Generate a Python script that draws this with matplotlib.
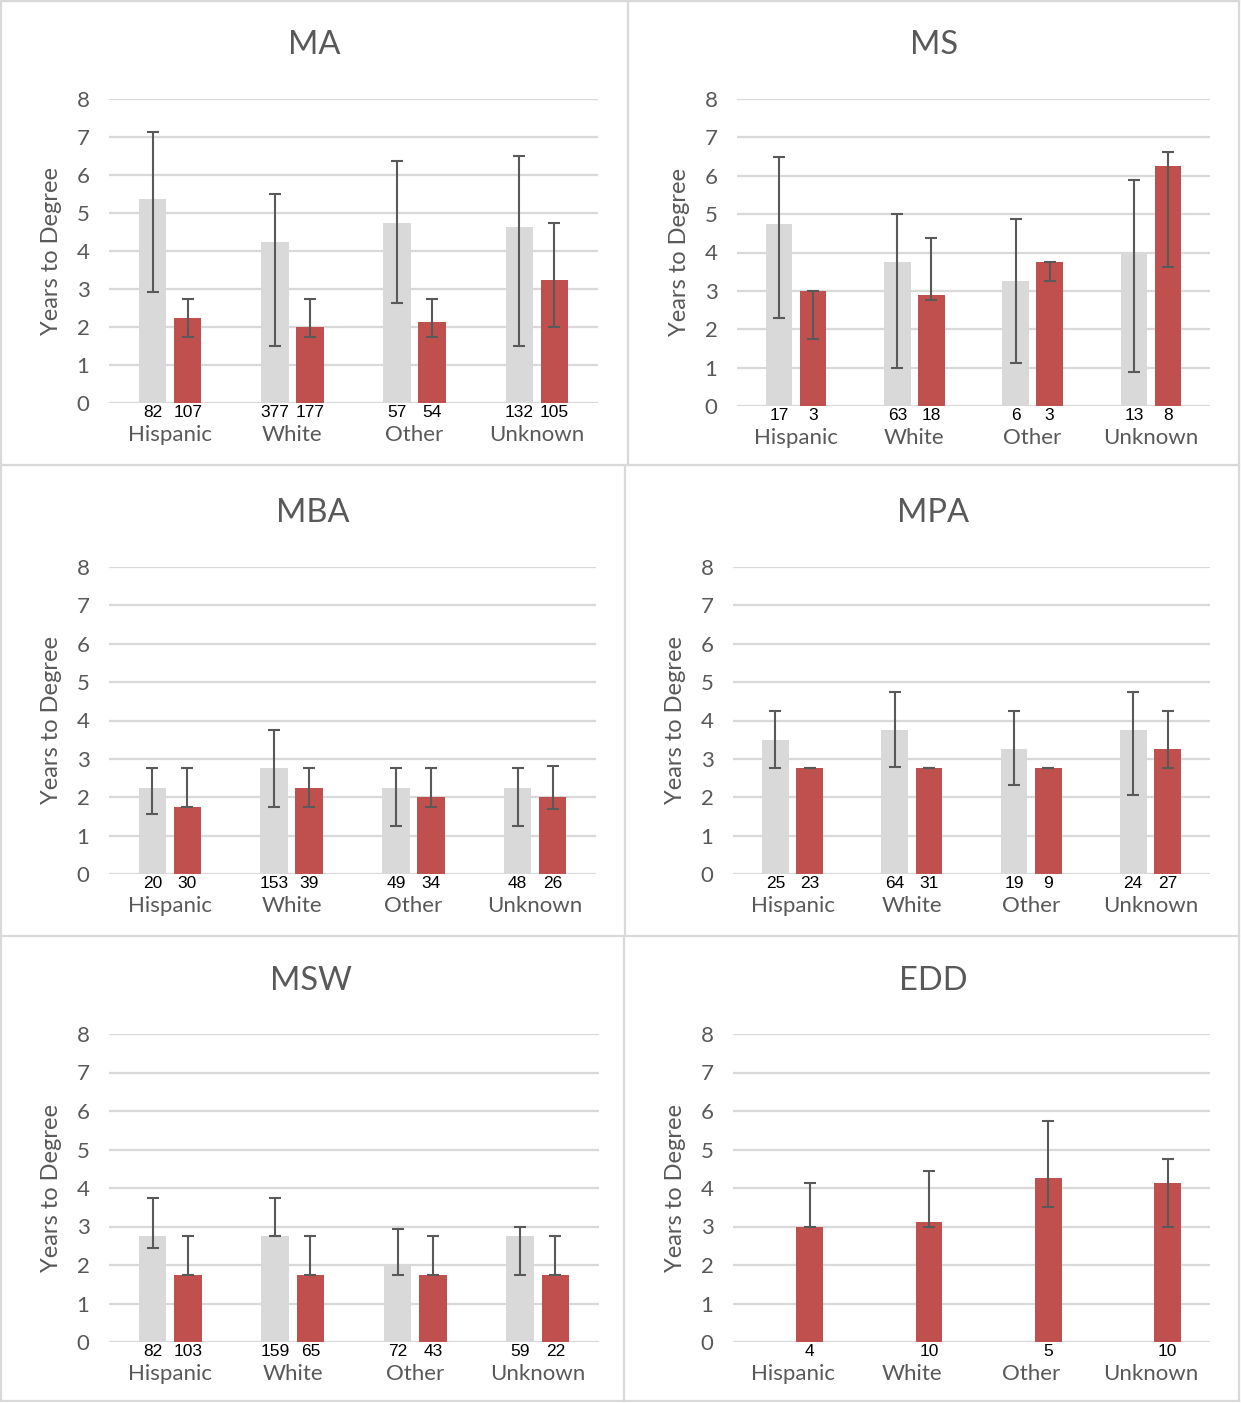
import numpy as np
import matplotlib
matplotlib.use('Agg')
import matplotlib.pyplot as plt
from matplotlib.lines import Line2D

# Datos
categorias = ['Hispanic', 'White', 'Other', 'Unknown']
programas = ['MA', 'MS', 'MBA', 'MPA', 'MSW', 'EDD']

# barras grises (media, extremo inferior y superior de la barra de error)
gris = {
    'MA':  [5.38, 4.25, 4.75, 4.62],
    'MS':  [4.75, 3.75, 3.25, 4.0],
    'MBA': [2.25, 2.75, 2.25, 2.25],
    'MPA': [3.5, 3.75, 3.25, 3.75],
    'MSW': [2.75, 2.75, 2.0, 2.75],
    'EDD': [np.nan, np.nan, np.nan, np.nan],
}
gris_min = {
    'MA':  [2.93, 1.5, 2.62, 1.5],
    'MS':  [2.3, 1.0, 1.12, 0.88],
    'MBA': [1.56, 1.75, 1.25, 1.25],
    'MPA': [2.75, 2.8, 2.32, 2.05],
    'MSW': [2.44, 2.75, 1.75, 1.75],
    'EDD': [np.nan, np.nan, np.nan, np.nan],
}
gris_max = {
    'MA':  [7.13, 5.5, 6.38, 6.5],
    'MS':  [6.5, 5.0, 4.88, 5.88],
    'MBA': [2.75, 3.75, 2.75, 2.75],
    'MPA': [4.25, 4.75, 4.25, 4.75],
    'MSW': [3.75, 3.75, 2.94, 3.0],
    'EDD': [np.nan, np.nan, np.nan, np.nan],
}
# barras rojas
rojo = {
    'MA':  [2.25, 2.0, 2.12, 3.25],
    'MS':  [3.0, 2.88, 3.75, 6.25],
    'MBA': [1.75, 2.25, 2.0, 2.0],
    'MPA': [2.75, 2.75, 2.75, 3.25],
    'MSW': [1.75, 1.75, 1.75, 1.75],
    'EDD': [3.0, 3.12, 4.25, 4.12],
}
rojo_min = {
    'MA':  [1.75, 1.75, 1.75, 2.0],
    'MS':  [1.75, 2.75, 3.25, 3.62],
    'MBA': [1.75, 1.75, 1.75, 1.7],
    'MPA': [2.75, 2.75, 2.75, 2.75],
    'MSW': [1.75, 1.75, 1.75, 1.75],
    'EDD': [3.0, 3.0, 3.5, 3.0],
}
rojo_max = {
    'MA':  [2.75, 2.75, 2.75, 4.75],
    'MS':  [3.0, 4.38, 3.75, 6.62],
    'MBA': [2.75, 2.75, 2.75, 2.82],
    'MPA': [2.75, 2.75, 2.75, 4.25],
    'MSW': [2.75, 2.75, 2.75, 2.75],
    'EDD': [4.12, 4.44, 5.75, 4.75],
}
# número de estudiantes bajo cada barra
n_gris = {
    'MA':  ['82', '377', '57', '132'],
    'MS':  ['17', '63', '6', '13'],
    'MBA': ['20', '153', '49', '48'],
    'MPA': ['25', '64', '19', '24'],
    'MSW': ['82', '159', '72', '59'],
    'EDD': [None, None, None, None],
}
n_rojo = {
    'MA':  ['107', '177', '54', '105'],
    'MS':  ['3', '18', '3', '8'],
    'MBA': ['30', '39', '34', '26'],
    'MPA': ['23', '31', '9', '27'],
    'MSW': ['103', '65', '43', '22'],
    'EDD': ['4', '10', '5', '10'],
}

W, H = 1241, 1403
# posición de cada panel en píxeles: izquierda, derecha, y del 0, y del 8, centro del título
posiciones = {
    'MA':  (109, 598, 403, 99, 314, 45),
    'MS':  (737, 1210, 406, 99, 934, 45),
    'MBA': (109, 596, 874, 567, 313, 513),
    'MPA': (733, 1210, 874, 567, 933, 513),
    'MSW': (109, 599, 1342, 1034, 311, 981),
    'EDD': (733, 1210, 1342, 1034, 933, 981),
}

color_gris = '#d9d9d9'
color_rojo = '#c0504d'
color_texto = '#595959'
fuente = ['Lato', 'DejaVu Sans']

fig = plt.figure(figsize=(W / 100, H / 100), dpi=100)

ancho = 0.225
desp = 0.144
x = np.arange(len(categorias))

for prog in programas:
    izq, der, y0, y8, tx, ty = posiciones[prog]
    ax = fig.add_axes([izq / W, 1 - y0 / H, (der - izq) / W, (y0 - y8) / H])

    g = np.array(gris[prog])
    r = np.array(rojo[prog])
    if not np.all(np.isnan(g)):
        ax.bar(x - desp, g, width=ancho, color=color_gris, zorder=2)
        err_g = [g - np.array(gris_min[prog]), np.array(gris_max[prog]) - g]
        ax.errorbar(x - desp, g, yerr=err_g, fmt='none', ecolor=color_texto,
                    elinewidth=1.5, capsize=4, capthick=1.5, zorder=3)
    ax.bar(x + desp, r, width=ancho, color=color_rojo, zorder=2)
    err_r = [r - np.array(rojo_min[prog]), np.array(rojo_max[prog]) - r]
    ax.errorbar(x + desp, r, yerr=err_r, fmt='none', ecolor=color_texto,
                elinewidth=1.5, capsize=4, capthick=1.5, zorder=3)

    ax.set_xlim(-0.5, 3.5)
    ax.set_ylim(0, 8)
    ax.set_yticks(range(0, 9))
    ax.set_xticks([])
    ax.yaxis.grid(True, color=color_gris, linewidth=1.6)
    ax.set_axisbelow(True)
    for s in ax.spines.values():
        s.set_visible(False)
    ax.tick_params(axis='y', length=0, pad=14, labelsize=16, labelcolor=color_texto)
    for lab in ax.get_yticklabels():
        lab.set_family(fuente)
    ax.set_ylabel('Years to Degree', fontsize=17, color=color_texto, family=fuente,
                  va='center')
    ax.yaxis.set_label_coords(-57 / (der - izq), 0.5)

    # conteos y categorías debajo del eje
    for i, cat in enumerate(categorias):
        if n_gris[prog][i] is not None:
            ax.annotate(n_gris[prog][i], xy=(i - desp, 0), xycoords=('data', 'axes fraction'),
                        xytext=(0, -7), textcoords='offset points', ha='center', va='center',
                        fontsize=12.5, family='Liberation Sans', color='black')
        ax.annotate(n_rojo[prog][i], xy=(i + desp, 0), xycoords=('data', 'axes fraction'),
                    xytext=(0, -7), textcoords='offset points', ha='center', va='center',
                    fontsize=12.5, family='Liberation Sans', color='black')
        ax.annotate(cat, xy=(i, 0), xycoords=('data', 'axes fraction'),
                    xytext=(0, -23), textcoords='offset points', ha='center', va='center',
                    fontsize=16, family=fuente, color=color_texto)

    fig.text(tx / W, 1 - ty / H, prog, ha='center', va='center', fontsize=23.5,
             family=fuente, color=color_texto)

# bordes de los paneles
bordes = [
    (1, 1, 1239, 1), (1, 465, 1239, 465), (1, 936, 1239, 936), (1, 1401, 1239, 1401),
    (1, 1, 1, 1401), (1239, 1, 1239, 1401),
    (628, 1, 628, 465), (625, 467, 625, 935), (624, 937, 624, 1401),
]
for x1, y1, x2, y2 in bordes:
    fig.add_artist(Line2D([x1 / W, x2 / W], [1 - y1 / H, 1 - y2 / H], color='#d9d9d9',
                          linewidth=1.6, transform=fig.transFigure))

fig.savefig('out.png', dpi=100, facecolor='white')
